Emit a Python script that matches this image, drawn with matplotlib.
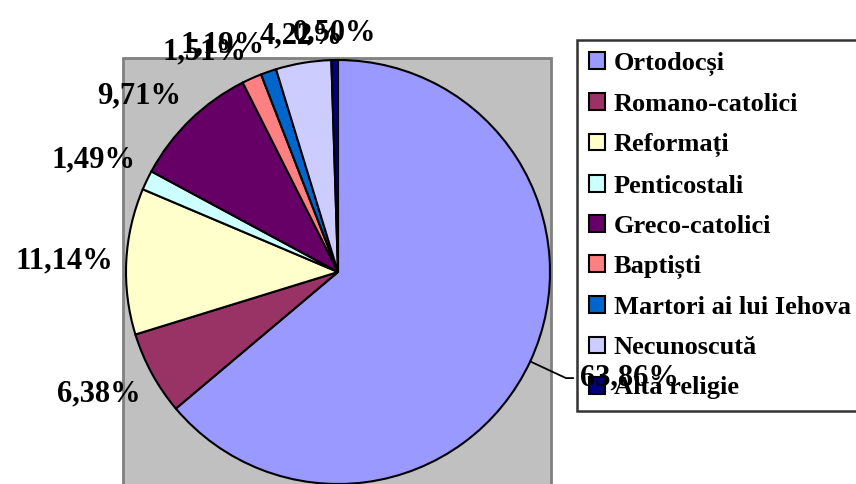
import numpy as np
import matplotlib
matplotlib.use("Agg")
import matplotlib.pyplot as plt
from matplotlib.patches import Rectangle

# Datele graficului
religii = ["Ortodocși", "Romano-catolici", "Reformați", "Penticostali",
           "Greco-catolici", "Baptiști", "Martori ai lui Iehova",
           "Necunoscută", "Altă religie"]
procente = [63.86, 6.38, 11.14, 1.49, 9.71, 1.51, 1.19, 4.22, 0.50]
culori = ["#9999FF", "#993366", "#FFFFCC", "#CCFFFF", "#660066",
          "#FF8080", "#0066CC", "#CCCCFF", "#000080"]

plt.rcParams["font.family"] = ["Liberation Serif", "DejaVu Serif"]
plt.rcParams["font.weight"] = "bold"

W, H = 856, 484
R = 212.0          # raza in pixeli
cx, cy = 338, 272  # centrul in pixeli (de sus)

fig = plt.figure(figsize=(W / 100, H / 100), dpi=100)
ax = fig.add_axes([0, 0, 1, 1])

# zona gri din spatele placintei
ax.add_patch(Rectangle((-1.014, -1.3), 2.02, 1.009 + 1.3, facecolor="#C0C0C0",
                       edgecolor="#808080", linewidth=2, zorder=0))

wedges, _ = ax.pie(procente, colors=culori, startangle=90, counterclock=False,
                   radius=1, center=(0, 0), frame=True,
                   wedgeprops=dict(edgecolor="black", linewidth=1.5))
ax.set_xlim(-cx / R, (W - cx) / R)
ax.set_ylim(-(H - cy) / R, cy / R)
ax.set_aspect("equal")
ax.axis("off")

# etichete procentuale
for i, w in enumerate(wedges):
    ang = np.deg2rad((w.theta1 + w.theta2) / 2)
    c, s = np.cos(ang), np.sin(ang)
    txt = f"{procente[i]:.2f}%".replace(".", ",")
    if i == 0:
        ax.annotate(txt, xy=(c, s), xytext=(36, -12), textcoords="offset points",
                    fontsize=22, fontweight="bold", ha="left", va="center",
                    zorder=10,
                    arrowprops=dict(arrowstyle="-", color="black", lw=1.3,
                                    shrinkA=3, shrinkB=0,
                                    connectionstyle="angle,angleA=0,angleB=-25,rad=0"))
        continue
    ha = "right" if c < -0.3 else ("left" if c > 0.3 else "center")
    va = "bottom" if s > 0.3 else ("top" if s < -0.3 else "center")
    ax.text(1.06 * c, 1.06 * s, txt, fontsize=22, fontweight="bold",
            ha=ha, va=va, zorder=10)

leg = ax.legend(wedges, religii, loc="upper left",
                bbox_to_anchor=(577 / W, 1 - 40 / H), bbox_transform=fig.transFigure,
                prop=dict(family="Liberation Serif", weight="bold", size=19),
                frameon=True, fancybox=False, borderaxespad=0, borderpad=0.45,
                handlelength=0.6, handleheight=0.6, handletextpad=0.35,
                labelspacing=0.65)
leg.get_frame().set_edgecolor("black")
leg.get_frame().set_linewidth(1.8)
leg.set_zorder(5)

plt.savefig("out.png", dpi=100)
